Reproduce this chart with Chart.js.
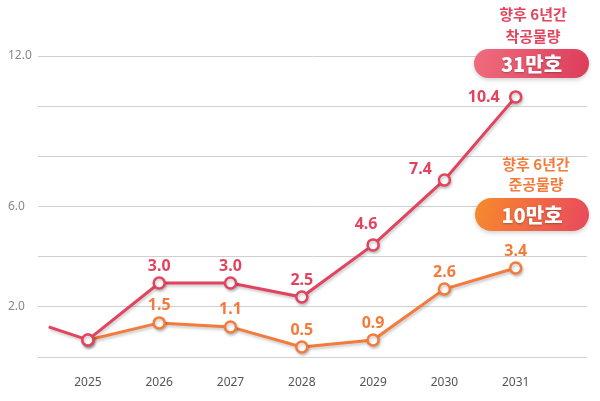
<!DOCTYPE html>
<html>
<head>
<meta charset="utf-8">
<script src="https://cdn.jsdelivr.net/npm/chart.js@4"></script>
<style>
  html, body { margin: 0; padding: 0; background: #fff; }
  #wrap { width: 600px; height: 401px; position: relative; }
</style>
</head>
<body>
<div id="wrap"><canvas id="c"></canvas></div>
<script>
// x positions (years); the first red point sits a little before 2025
const xValues = [2024.45, 2025, 2026, 2027, 2028, 2029, 2030, 2031];
const yearTicks = [2025, 2026, 2027, 2028, 2029, 2030, 2031];
const yLabelTicks = [12, 6, 2];

// 착공물량 (red) and 준공물량 (orange)
const startsValues = [1.2, 0.68, 2.95, 2.95, 2.39, 4.47, 7.06, 10.37];
const startsLabels = [null, null, '3.0', '3.0', '2.5', '4.6', '7.4', '10.4'];
const doneValues = [null, 0.68, 1.36, 1.2, 0.4, 0.68, 2.71, 3.55];
const doneLabels = [null, null, '1.5', '1.1', '0.5', '0.9', '2.6', '3.4'];

const RED = '#e2445f', ORANGE = '#f47b3b';

const shadowPlugin = {
  id: 'shadow',
  beforeDatasetsDraw(chart) {
    const ctx = chart.ctx;
    ctx.save();
    ctx.shadowColor = 'rgba(0,0,0,0.22)';
    ctx.shadowBlur = 3;
    ctx.shadowOffsetX = 1;
    ctx.shadowOffsetY = 2;
  },
  afterDatasetsDraw(chart) {
    chart.ctx.restore();
  }
};

const labelPlugin = {
  id: 'valueLabels',
  afterDatasetsDraw(chart, args, opts) {
    const ctx = chart.ctx;
    ctx.save();
    ctx.font = 'bold 16px "Noto Sans", sans-serif';
    ctx.textBaseline = 'middle';
    opts.sets.forEach((s, di) => {
      const meta = chart.getDatasetMeta(di);
      s.labels.forEach((txt, i) => {
        if (!txt) return;
        const p = meta.data[i];
        const where = s.place[i] || 'top';
        ctx.fillStyle = s.color;
        if (where === 'left') {
          ctx.textAlign = 'right';
          ctx.fillText(txt, p.x - 16, p.y + 1);
        } else if (where === 'upleft') {
          ctx.textAlign = 'center';
          ctx.fillText(txt, p.x - 24, p.y - 10);
        } else if (where === 'topleft') {
          ctx.textAlign = 'center';
          ctx.fillText(txt, p.x - 7, p.y - 20);
        } else {
          ctx.textAlign = 'center';
          ctx.fillText(txt, p.x, p.y - 17);
        }
      });
    });
    ctx.restore();
  }
};

function pill(ctx, x, y, w, h, c1, c2, text) {
  ctx.save();
  const g = ctx.createLinearGradient(x, y, x + w, y + h);
  g.addColorStop(0, c1);
  g.addColorStop(1, c2);
  ctx.shadowColor = 'rgba(0,0,0,0.18)';
  ctx.shadowBlur = 4;
  ctx.shadowOffsetY = 2;
  ctx.fillStyle = g;
  ctx.beginPath();
  ctx.roundRect(x, y, w, h, h / 2);
  ctx.fill();
  ctx.shadowColor = 'rgba(0,0,0,0.25)';
  ctx.shadowBlur = 2;
  ctx.shadowOffsetY = 1;
  ctx.fillStyle = '#fff';
  ctx.font = '900 20px "Noto Sans CJK KR", sans-serif';
  ctx.textAlign = 'center';
  ctx.textBaseline = 'middle';
  ctx.fillText(text, x + w / 2, y + h / 2 + 1);
  ctx.restore();
}

const notePlugin = {
  id: 'notes',
  afterDraw(chart) {
    const ctx = chart.ctx;
    ctx.save();
    ctx.font = 'bold 15px "Noto Sans CJK KR", sans-serif';
    ctx.textAlign = 'center';
    ctx.textBaseline = 'middle';
    ctx.fillStyle = RED;
    ctx.fillText('향후 6년간', 533, 14);
    ctx.fillText('착공물량', 533, 36);
    ctx.fillStyle = ORANGE;
    ctx.fillText('향후 6년간', 536, 164);
    ctx.fillText('준공물량', 536, 184);
    ctx.restore();
    pill(ctx, 474, 49, 115, 29, '#f06c7e', '#dc3d5a', '31만호');
    pill(ctx, 475, 198, 114, 33, '#f78a2c', '#e9485e', '10만호');
  }
};

new Chart(document.getElementById('c'), {
  type: 'line',
  data: {
    datasets: [
      {
        data: xValues.map((x, i) => ({ x, y: startsValues[i] })),
        borderColor: RED,
        borderWidth: 3,
        pointBackgroundColor: '#fff',
        pointBorderColor: RED,
        pointBorderWidth: 2.5,
        pointRadius: xValues.map((_, i) => i === 0 ? 0 : 5.5),
        tension: 0
      },
      {
        data: xValues.map((x, i) => ({ x, y: doneValues[i] })),
        borderColor: ORANGE,
        borderWidth: 3,
        pointBackgroundColor: '#fff',
        pointBorderColor: ORANGE,
        pointBorderWidth: 2.5,
        pointRadius: 5.5,
        tension: 0
      }
    ]
  },
  options: {
    responsive: true,
    maintainAspectRatio: false,
    animation: false,
    devicePixelRatio: 1,
    layout: { padding: { top: 56, right: 13, left: 8, bottom: 0 } },
    scales: {
      x: {
        type: 'linear',
        min: 2024.3,
        max: 2032,
        afterBuildTicks: s => { s.ticks = yearTicks.map(v => ({ value: v })); },
        afterFit: s => { s.height = 44; },
        grid: { display: false },
        border: { display: false },
        ticks: {
          padding: 10,
          color: '#555',
          font: { family: '"Noto Sans", sans-serif', size: 12 },
          callback: v => String(v)
        }
      },
      y: {
        min: 0,
        max: 12,
        ticks: {
          stepSize: 2,
          color: '#888',
          crossAlign: 'far',
          padding: 0,
          font: { family: '"Noto Sans", sans-serif', size: 12 },
          callback: v => yLabelTicks.includes(v) ? v.toFixed(1) : ''
        },
        afterFit: s => { s.width = 30; },
        grid: { color: '#d0d0d0', lineWidth: 1, drawTicks: false },
        border: { display: false }
      }
    },
    plugins: {
      legend: { display: false },
      tooltip: { enabled: false },
      valueLabels: {
        sets: [
          { labels: startsLabels, color: RED, place: [null, null, 'top', 'top', 'top', 'topleft', 'upleft', 'left'] },
          { labels: doneLabels, color: ORANGE, place: [] }
        ]
      }
    }
  },
  plugins: [shadowPlugin, labelPlugin, notePlugin]
});
</script>
</body>
</html>
